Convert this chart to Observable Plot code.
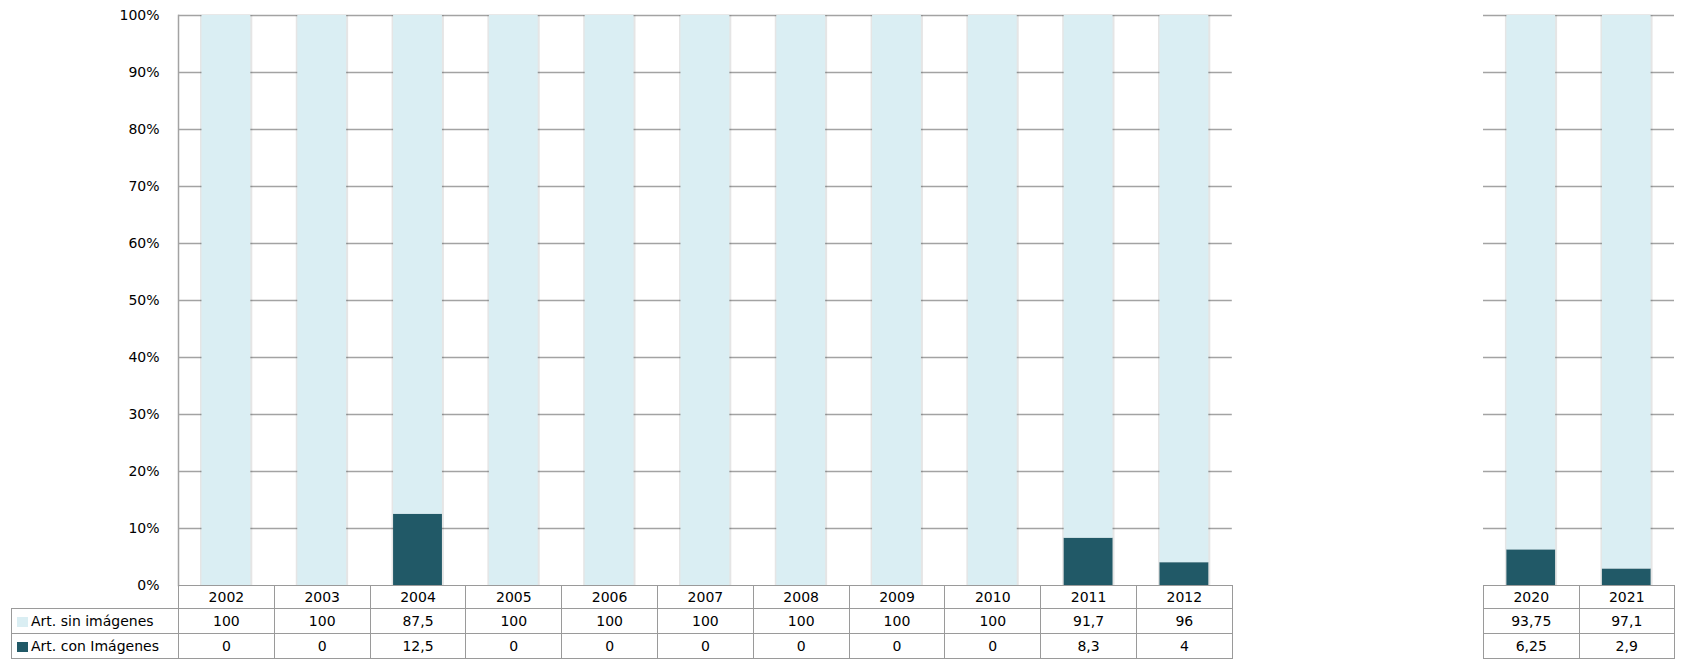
<!DOCTYPE html>
<html>
<head>
<meta charset="utf-8">
<script src="https://cdn.jsdelivr.net/npm/d3@7"></script>
<script src="https://cdn.jsdelivr.net/npm/@observablehq/plot@0.6"></script>
<style>
  html, body { margin: 0; padding: 0; background: #fff; }
  #root { position: relative; width: 1703px; height: 664px; font-family: "DejaVu Sans", sans-serif; }
  .panel { position: absolute; top: 0; }
  table { position: absolute; border-collapse: collapse; table-layout: fixed; font-family: "DejaVu Sans", sans-serif; font-size: 14px; color: #000; }
  td { border: 1.5px solid #9a9a9a; text-align: center; padding: 0; white-space: nowrap; overflow: hidden; }
  td.empty { border: none; border-right: 1.5px solid #9a9a9a; }
  td.lab { text-align: left; padding-left: 5px; }
  .sw { display: inline-block; width: 11px; height: 10px; margin-right: 3px; vertical-align: -1px; }
</style>
</head>
<body>
<div id="root"></div>
<script>
// ---- data ----
const years = ["2002","2003","2004","2005","2006","2007","2008","2009","2010","2011","2012","2020","2021"];
const sinImagenes = [100,100,87.5,100,100,100,100,100,100,91.7,96,93.75,97.1];
const conImagenes = [0,0,12.5,0,0,0,0,0,0,8.3,4,6.25,2.9];
const seriesNames = ["Art. sin imágenes","Art. con Imágenes"];
const seriesColors = ["#DAEEF3","#215967"];
const yTicks = [0,10,20,30,40,50,60,70,80,90,100];
const leftYears = years.slice(0, 11);
const rightYears = years.slice(11);

const rows = years.flatMap((y, i) => [
  {year: y, serie: seriesNames[1], value: conImagenes[i]},
  {year: y, serie: seriesNames[0], value: sinImagenes[i]}
]);
const totals = years.map((y, i) => ({year: y, total: sinImagenes[i] + conImagenes[i]}));
const fmt = v => String(v).replace(".", ",");

const root = document.getElementById("root");
const gridColor = "#a3a3a3";

function makeChart(yrs, withAxis, left, width, marginLeft, marginRight) {
  const marks = [
    Plot.ruleY(yTicks.filter(t => t > 0), {y: d => d, stroke: gridColor, strokeWidth: 1.5}),
    Plot.barY(totals.filter(d => yrs.includes(d.year)), {x: "year", y: "total", fill: "#000", fillOpacity: 0.1, insetLeft: -1.5, insetRight: -2}),
    Plot.barY(rows.filter(d => yrs.includes(d.year)), Plot.stackY({order: [seriesNames[1], seriesNames[0]]}, {x: "year", y: "value", z: "serie", fill: "serie"}))
  ];
  if (withAxis) {
    marks.push(Plot.axisY({ticks: yTicks, tickSize: 0, tickPadding: 19, tickFormat: d => d + "%", fill: "#000"}));
    marks.push(Plot.frame({anchor: "left", stroke: gridColor, strokeWidth: 1.5}));
  }
  const svg = Plot.plot({
    width, height: 600,
    marginLeft, marginRight, marginTop: 15, marginBottom: 15,
    style: {fontFamily: "DejaVu Sans", fontSize: "14px", color: "#000", background: "transparent"},
    x: {domain: yrs, paddingInner: 0.49, paddingOuter: 0.245, round: false, axis: null},
    y: {domain: [0, 100], axis: null},
    color: {domain: seriesNames, range: seriesColors},
    marks
  });
  svg.classList.add("panel");
  svg.style.left = left + "px";
  root.appendChild(svg);
}

const leftCol = 95.8, rightCol = 95.5;
makeChart(leftYears, true, 0, 1240, 178, 1240 - 178 - leftCol * 11);
makeChart(rightYears, false, 1477, 210, 6, 210 - 6 - rightCol * 2);

function makeTable(yrs, left, labelWidth, colWidth) {
  const t = document.createElement("table");
  t.style.left = left + "px";
  t.style.top = "585px";
  const total = (labelWidth || 0) + colWidth * yrs.length;
  t.style.width = total + "px";
  let html = "<colgroup>";
  if (labelWidth) html += `<col style="width:${labelWidth}px">`;
  yrs.forEach(() => html += `<col style="width:${colWidth}px">`);
  html += "</colgroup>";
  html += `<tr style="height:23px">` + (labelWidth ? `<td class="empty"></td>` : "") + yrs.map(y => `<td>${y}</td>`).join("") + "</tr>";
  const vals = [sinImagenes, conImagenes];
  seriesNames.forEach((name, s) => {
    html += `<tr style="height:25px">`;
    if (labelWidth) html += `<td class="lab"><span class="sw" style="background:${seriesColors[s]}"></span>${name}</td>`;
    html += yrs.map(y => `<td>${fmt(vals[s][years.indexOf(y)])}</td>`).join("");
    html += "</tr>";
  });
  t.innerHTML = html;
  root.appendChild(t);
}

makeTable(leftYears, 11, 167, leftCol);
makeTable(rightYears, 1483, 0, rightCol);
</script>
</body>
</html>
